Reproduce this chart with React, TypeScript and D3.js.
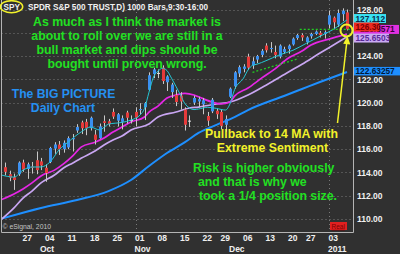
import React from "react";
import * as d3 from "d3";

// ---- data ----
const dates = [
  "09-20","09-21","09-22","09-23","09-24","09-27","09-28","09-29","09-30","10-01",
  "10-04","10-05","10-06","10-07","10-08","10-11","10-12","10-13","10-14","10-15",
  "10-18","10-19","10-20","10-21","10-22","10-25","10-26","10-27","10-28","10-29",
  "11-01","11-02","11-03","11-04","11-05","11-08","11-09","11-10","11-11","11-12",
  "11-15","11-16","11-17","11-18","11-19","11-22","11-23","11-24","11-26",
  "11-29","11-30","12-01","12-02","12-03","12-06","12-07","12-08","12-09","12-10",
  "12-13","12-14","12-15","12-16","12-17","12-20","12-21","12-22","12-23",
  "12-27","12-28","12-29","12-30","12-31","01-03","01-04","01-05","01-06","01-07",
];
const opens = [
  112.9,114.45,113.85,113.6,113.85,114.85,114.3,114.5,115.05,114.95,
  114.4,114.9,116.05,116.4,116.0,116.15,116.85,117.6,118.3,118.35,
  117.8,117.25,116.95,118.4,118.4,119.2,118.45,118.35,119.15,118.45,
  119.2,119.35,119.6,121.1,122.45,122.5,123.0,121.75,120.9,120.65,
  120.6,119.4,118.4,120.0,120.1,119.85,118.85,119.25,119.3,
  119.2,118.1,120.5,121.4,122.5,122.9,123.95,123.2,123.7,124.1,
  124.9,124.6,124.35,123.95,124.35,124.6,125.0,125.55,125.8,
  125.2,125.7,125.9,126.0,125.9,126.7,127.3,126.7,127.6,127.75,
];
const highs = [
  114.4,114.85,114.15,113.9,114.95,115.1,114.85,114.9,115.8,115.25,
  114.7,116.2,116.6,116.7,116.75,117.1,117.3,118.15,118.45,118.6,
  118.8,117.65,118.2,118.9,118.6,119.5,119.1,118.9,119.3,118.9,
  119.6,119.95,120.05,122.6,123.0,122.85,123.2,122.35,121.7,121.1,
  120.9,119.6,118.9,120.6,120.5,120.4,119.2,120.4,119.5,
  119.4,118.9,121.3,122.7,123.2,123.3,124.2,123.9,124.1,124.6,
  125.1,125.2,124.9,125.0,124.8,125.0,125.6,125.9,125.95,
  125.7,126.0,126.2,126.15,126.2,127.9,127.4,128.0,128.1,128.0,
];
const lows = [
  112.8,113.75,113.25,112.5,113.7,114.05,113.45,113.9,113.85,114.2,
  113.2,114.8,115.6,115.5,115.7,116.0,115.8,117.4,117.3,117.2,
  117.6,116.4,116.9,117.5,117.95,118.6,117.95,117.7,118.2,118.2,
  117.95,119.0,118.5,121.0,122.1,122.1,121.6,121.0,120.4,119.7,
  119.4,117.6,117.9,119.8,119.6,119.0,118.0,119.1,118.6,
  117.7,117.5,120.4,121.2,122.2,122.6,122.8,122.9,123.4,123.9,
  124.3,124.3,123.8,123.8,124.2,124.2,124.9,125.4,125.3,
  125.0,125.5,125.8,125.6,125.5,126.4,126.3,126.5,127.0,126.2,
];
const closes = [
  114.3,114.05,113.55,113.35,114.85,114.25,114.7,114.4,114.2,114.6,
  113.95,116.1,116.4,116.0,116.55,116.95,116.95,117.9,117.8,117.8,
  118.7,116.8,117.95,118.25,118.15,118.8,119.0,118.65,118.7,118.5,
  118.7,119.45,119.95,122.35,122.85,122.55,121.85,122.25,121.55,120.05,
  120.1,118.1,118.45,120.4,120.3,120.2,118.45,120.25,119.0,
  118.0,118.6,121.2,122.6,123.05,123.1,123.0,123.55,124.0,124.45,
  124.5,124.7,124.1,124.9,124.6,124.9,125.5,125.8,125.6,
  125.6,125.9,126.1,125.8,126.05,127.5,126.9,127.7,127.9,126.3,
];

const maFastIdx = [0,3,5,7,9,11,13,15,18,20,22,24,27,29,31,32,33,34,35,36,37,38,40,41,43,44,46,48,50,51,52,54,55,56,57,59,62,65,68,71,74,77];
const maFastVal = [113.8,113.6,114.2,114.47,114.47,114.9,115.93,116.6,117.5,117.9,117.65,118.15,118.3,118.5,118.93,119.5,120.9,122.2,122.7,122.95,122.75,122.1,120.65,119.9,119.4,119.45,119.6,119.5,119.36,119.9,121.1,122.1,122.8,123.2,123.3,123.6,124.1,124.5,125.1,125.7,126.3,127.112];

const ma14Idx = [0,3,5,7,9,12,14,16,18,21,23,25,27,29,32,33,35,37,39,41,43,44,47,49,51,52,55,58,61,64,67,69,73,77];
const ma14Val = [111.63,112.15,112.58,113.1,113.7,114.2,114.73,115.4,116.2,116.6,116.96,117.47,117.9,118.33,118.76,119.19,119.7,120.4,120.65,120.8,120.65,120.5,120.05,119.88,120.05,120.56,121.25,122.1,122.9,123.83,124.43,124.95,125.46,125.8571];

const ma20Idx = [0,3,5,7,9,12,14,16,18,21,23,25,27,29,33,35,39,42,44,48,51,55,59,64,67,71,74,77];
const ma20Val = [109.9,110.95,111.8,112.4,113.1,113.78,114.38,114.8,115.24,115.84,116.36,116.79,117.13,117.65,118.16,118.76,119.19,119.54,119.62,119.88,120.05,120.65,121.5,122.63,123.3,124.26,124.95,125.6503];

const ma50Idx = [0,9,17,24,29,33,37,41,44,48,52,55,63,67,71,77];
const ma50Val = [110.0,110.95,111.63,112.4,113.35,114.55,115.67,116.6,117.39,118.08,118.76,119.36,120.57,121.17,121.77,122.63257];

const trendIdx = [56, 66];
const trendVal = [122.6, 123.75];
const lastPriceIdx = [66.5, 78.2];
const lastPrice = 126.30;

const dayTickIdx = [5,10,15,20,25,30,35,40,45,49,54,59,64,68,73];
const monthLabels = ["Oct","Nov","Dec","2011"];
const monthIdx = [9,30,51,73];
const gridIdx = [30,73];
const priceTicks = [128,124,122,120,118,116,114,112,110];
const gridPrices = [110,112,114,116,118,120,122,124,126,128];

const boxValues = [127.112, 125.8571, 126.30, 125.6503, 122.63257];
const boxLabels = ["127.112","125.8571","126.30","125.6503","122.63257"];

// ---- styles ----
const BG = "#303030";
const C_FAST = "#25c6d4";
const C_MA14 = "#e626e6";
const C_MA20 = "#c9a6f2";
const C_MA50 = "#1e8fff";
const C_UP = "#3a8ff0";
const C_DN = "#e63a3a";
const GREEN = "#22e022";
const YELLOW = "#f2f22a";
const BLUE_TXT = "#2590f2";
const FONT = "Arial, 'Liberation Sans', sans-serif";

const boxStyle = [
  { fill: "#38e2f2", text: "#0a2a4a", w: 32, dy: -1.3, h: 9 },
  { fill: "#e030e0", text: "#3a003a", w: 45, dy: -5, tx: 360, h: 9 },
  { fill: "#ee2a20", text: "#7a0000", w: 25, dy: -2.3, h: 9 },
  { fill: "#cbaaf4", text: "#5a2a9a", w: 35, dy: 1.2, h: 9 },
  { fill: "#1e8fff", text: "#00183a", w: 46, dy: -0.8, h: 8.5 },
];

export default function App() {
  const x = d3.scaleLinear().domain([0, 77]).range([0.5, 347]);
  const y = d3.scaleLinear().domain([110, 128]).range([219, 9.5]);

  const mkLine = (idx: number[], val: number[]) =>
    d3.line<number>()
      .x((_, k) => x(idx[k]))
      .y((v) => y(v))
      .curve(d3.curveMonotoneX)(val) || "";

  const plotL = 1.5, plotR = 353.5, plotB = 232.5;
  const candles = d3.range(1, opens.length);

  const annGreen = [
    "As much as I think the market is",
    "about to roll over we are still in a",
    "bull market and dips should be",
    "bought until proven wrong.",
  ];
  const annGreen2 = [
    "Risk is higher obviously",
    "and that is why we",
    "took a 1/4 position size.",
  ];
  const annGreen2X = [193, 198, 199];

  return (
    <svg
      width={400}
      height={254}
      style={{ position: "fixed", left: 0, top: 0, display: "block" }}
      fontFamily={FONT}
    >
      <defs>
        <clipPath id="plotClip">
          <rect x={2} y={0} width={351} height={232} />
        </clipPath>
      </defs>
      <rect x={0} y={0} width={400} height={254} fill={BG} />

      {/* grid */}
      <g stroke="#7a7a7a" strokeWidth={1} strokeDasharray="1,3">
        {gridPrices.map((p) => (
          <line key={"h" + p} x1={plotL} x2={plotR} y1={Math.round(y(p)) + 0.5} y2={Math.round(y(p)) + 0.5} />
        ))}
        {gridIdx.map((i) => (
          <line key={"v" + i} x1={Math.round(x(i)) + 0.5} x2={Math.round(x(i)) + 0.5} y1={0} y2={plotB} />
        ))}
      </g>

      {/* frame */}
      <path d={`M${plotL},0 V${plotB} H${plotR} V0`} fill="none" stroke="#b4b4b4" strokeWidth={1} />

      <g clipPath="url(#plotClip)">
        {/* moving averages */}
        <path d={mkLine(ma50Idx, ma50Val)} fill="none" stroke={C_MA50} strokeWidth={2} />
        <path d={mkLine(ma20Idx, ma20Val)} fill="none" stroke={C_MA20} strokeWidth={1.7} />
        <path d={mkLine(ma14Idx, ma14Val)} fill="none" stroke={C_MA14} strokeWidth={1.7} />

        {/* candles */}
        {candles.map((i) => {
          const o = opens[i], c = closes[i];
          const cx = x(i);
          const top = y(Math.max(o, c));
          const bot = y(Math.min(o, c));
          const doji = Math.abs(o - c) < 0.08;
          const col = doji ? "#e0e0e0" : c >= o ? C_UP : C_DN;
          return (
            <g key={i}>
              <line x1={Math.round(cx) + 0.5} x2={Math.round(cx) + 0.5} y1={y(highs[i])} y2={y(lows[i])} stroke="#c8c8c8" strokeWidth={1} />
              <rect x={Math.round(cx) - 1} y={top} width={3} height={Math.max(1, bot - top)} fill={col} />
            </g>
          );
        })}

        <path d={mkLine(maFastIdx, maFastVal)} fill="none" stroke={C_FAST} strokeWidth={1} />

        {/* trend lines */}
        <path d={mkLine(trendIdx, trendVal)} fill="none" stroke="#22cc22" strokeWidth={1.3} strokeDasharray="2,2" />
        <line x1={x(lastPriceIdx[0])} x2={x(lastPriceIdx[1])} y1={y(lastPrice)} y2={y(lastPrice)} stroke="#22cc22" strokeWidth={1.3} strokeDasharray="2,2" />
      </g>

      {/* title */}
      <ellipse cx={11.5} cy={6.7} rx={11.2} ry={6} fill="none" stroke={YELLOW} strokeWidth={1.5} />
      <text x={3.5} y={10.3} fontSize={8.2} fontWeight="bold" fill="#f0f0f0">SPY</text>
      <text x={28} y={10.3} fontSize={8.2} fontWeight="bold" fill="#f0f0f0" textLength={180} lengthAdjust="spacingAndGlyphs">
        SPDR S&amp;P 500 TRUST,D) 1000 Bars,9:30-16:00
      </text>

      {/* price axis labels */}
      {priceTicks.map((p) => (
        <text key={p} x={357} y={y(p) + 3.2} fontSize={8.5} fontWeight="bold" fill="#f0f0f0">
          {p.toFixed(2)}
        </text>
      ))}

      {/* value boxes */}
      {boxValues.map((v, k) => {
        const s = boxStyle[k];
        const cy = y(v) + s.dy;
        return (
          <g key={"b" + k}>
            <rect x={354} y={cy - s.h / 2} width={s.w} height={s.h} fill={s.fill} />
            <text x={s.tx ?? 355.5} y={cy + 3} fontSize={8.3} fontWeight="bold" fill={s.text}>
              {boxLabels[k]}
            </text>
          </g>
        );
      })}

      {/* x axis labels */}
      {dayTickIdx.map((i) => (
        <text key={"d" + i} x={x(i) - 0.5} y={241} fontSize={8.5} fontWeight="bold" fill="#f0f0f0">
          {dates[i].slice(3)}
        </text>
      ))}
      {monthIdx.map((i, k) => (
        <text key={"m" + i} x={x(i) - 1} y={252} fontSize={8.5} fontWeight="bold" fill="#f0f0f0">
          {monthLabels[k]}
        </text>
      ))}

      <text x={2.5} y={229} fontSize={6.8} fill="#c4c4c4">© eSignal, 2010</text>
      <rect x={330} y={222} width={17} height={8} fill="#e02020" />
      <text x={331.5} y={228.8} fontSize={6.5} fill="#7a0000" textDecoration="underline">Real</text>

      {/* annotations */}
      {annGreen.map((t, k) => (
        <text key={"g" + k} x={127} y={26 + k * 14} textAnchor="middle" fontSize={12.3} fontWeight="bold" fill={GREEN}>
          {t}
        </text>
      ))}
      <text x={63.5} y={97.5} textAnchor="middle" fontSize={12.2} fontWeight="bold" fill={BLUE_TXT}>The BIG PICTURE</text>
      <text x={63} y={111.5} textAnchor="middle" fontSize={12.2} fontWeight="bold" fill={BLUE_TXT}>Daily Chart</text>

      <text x={271.5} y={138} textAnchor="middle" fontSize={12.3} fontWeight="bold" fill={YELLOW}>Pullback to 14 MA with</text>
      <text x={272.5} y={152} textAnchor="middle" fontSize={12.3} fontWeight="bold" fill={YELLOW}>Extreme Sentiment</text>

      {annGreen2.map((t, k) => (
        <text key={"r" + k} x={annGreen2X[k]} y={171.5 + k * 14} fontSize={12.3} fontWeight="bold" fill={GREEN}>
          {t}
        </text>
      ))}

      {/* yellow circle and arrow */}
      <circle cx={346.5} cy={30.5} r={6} fill="none" stroke={YELLOW} strokeWidth={2} />
      <line x1={337.5} y1={123} x2={346.7} y2={43} stroke={YELLOW} strokeWidth={1.5} />
      <polygon points="347.5,36 350.3,44.5 343.2,43.7" fill={YELLOW} />
    </svg>
  );
}
